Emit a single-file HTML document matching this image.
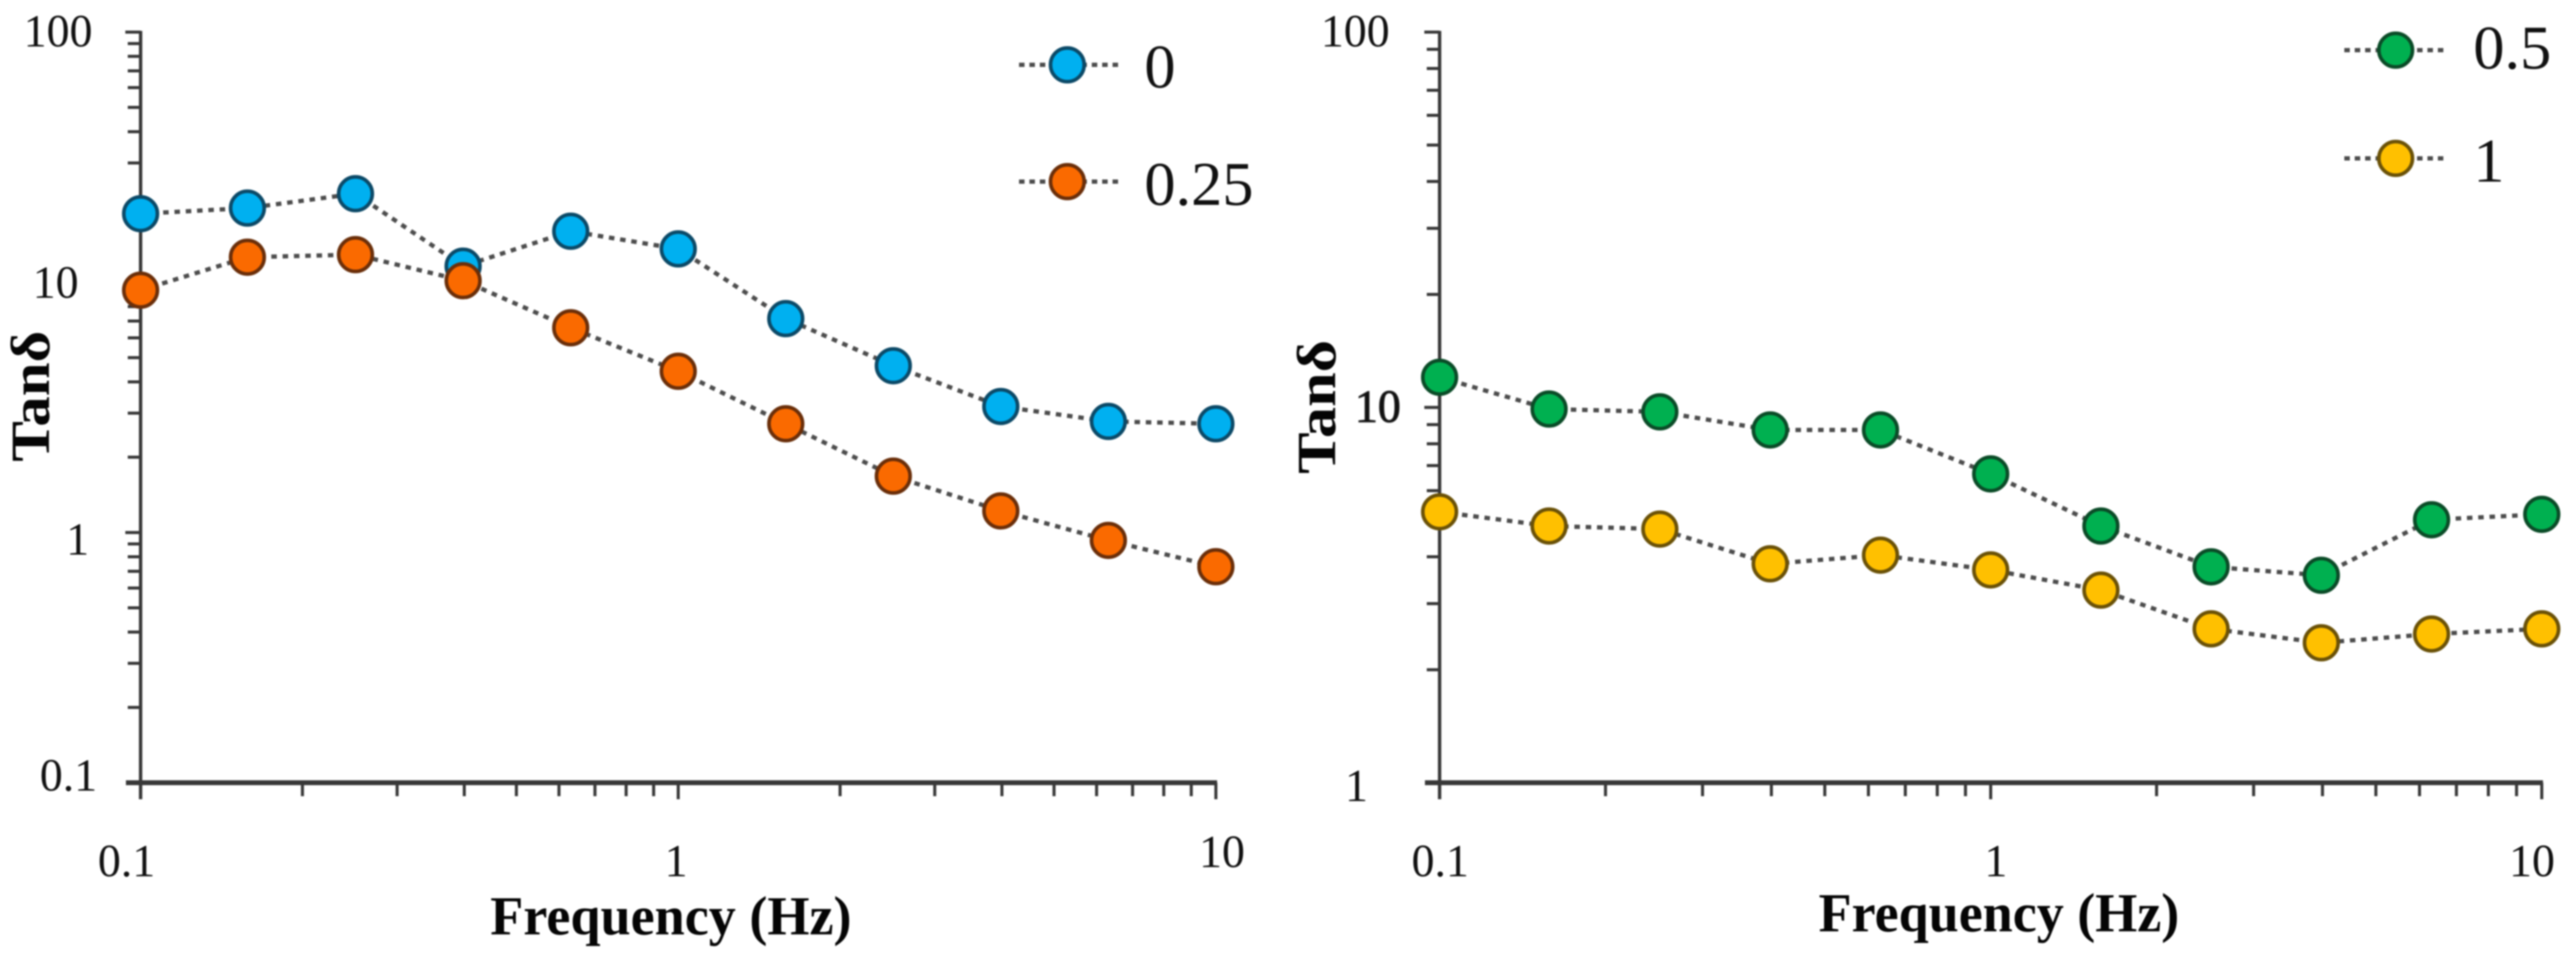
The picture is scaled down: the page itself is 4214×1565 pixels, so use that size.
<!DOCTYPE html>
<html lang="en">
<head>
<meta charset="utf-8">
<title>Tanδ versus frequency</title>
<style>
  html, body { margin: 0; padding: 0; background: #fff; }
  #figure { display: block; width: 4214px; height: 1565px; filter: blur(1.2px); }
  text { font-family: "Liberation Serif", "DejaVu Serif", serif; fill: #111; }
  .tick { font-size: 75px; text-anchor: middle; }
  .leg { font-size: 102px; }
  .title { font-size: 90px; font-weight: bold; fill: #050505; }
</style>
</head>
<body>
<svg id="figure" xmlns="http://www.w3.org/2000/svg" width="4214" height="1565" viewBox="0 0 4214 1565">
  <g id="panel-a">
    <g id="a-axes"></g>
    <g id="a-series"></g>
    <text class="tick" x="95" y="76">100</text>
    <text class="tick" x="91" y="487">10</text>
    <text class="tick" x="127" y="907">1</text>
    <text class="tick" x="112" y="1293">0.1</text>
    <text class="tick" x="207" y="1433">0.1</text>
    <text class="tick" x="1106" y="1433">1</text>
    <text class="tick" x="1999" y="1418">10</text>
    <text class="title" x="802" y="1528" textLength="591" lengthAdjust="spacingAndGlyphs">Frequency (Hz)</text>
    <text class="title" transform="translate(80 755) rotate(-90)" textLength="214" lengthAdjust="spacingAndGlyphs">Tanδ</text>
    <g>
      <line x1="1667" y1="106" x2="1830" y2="106" stroke="#4d4d4d" stroke-width="7" stroke-dasharray="9 8"/>
      <circle cx="1746" cy="106" r="27.5" fill="#00b0f0" stroke="#0c4a68" stroke-width="6"/>
      <text class="leg" x="1872" y="143">0</text>
    </g>
    <g>
      <line x1="1667" y1="297" x2="1830" y2="297" stroke="#4d4d4d" stroke-width="7" stroke-dasharray="9 8"/>
      <circle cx="1746" cy="297" r="27.5" fill="#fa6a00" stroke="#6b2f0a" stroke-width="6"/>
      <text class="leg" x="1872" y="335">0.25</text>
    </g>
  </g>
  <g id="panel-b">
    <g id="b-axes"></g>
    <g id="b-series"></g>
    <text class="tick" x="2217" y="76">100</text>
    <text class="tick" x="2254" y="690" stroke="#222" stroke-width="1.6">10</text>
    <text class="tick" x="2219" y="1310">1</text>
    <text class="tick" x="2356" y="1433">0.1</text>
    <text class="tick" x="3265" y="1433">1</text>
    <text class="tick" x="4142" y="1433">10</text>
    <text class="title" x="2975" y="1523" textLength="590" lengthAdjust="spacingAndGlyphs">Frequency (Hz)</text>
    <text class="title" transform="translate(2184 775) rotate(-90)" textLength="219" lengthAdjust="spacingAndGlyphs">Tanδ</text>
    <g>
      <line x1="3835" y1="82" x2="4002" y2="82" stroke="#4d4d4d" stroke-width="7" stroke-dasharray="9 8"/>
      <circle cx="3919" cy="82" r="27.5" fill="#00b050" stroke="#0b4c28" stroke-width="6"/>
      <text class="leg" x="4046" y="112">0.5</text>
    </g>
    <g>
      <line x1="3835" y1="259" x2="4002" y2="259" stroke="#4d4d4d" stroke-width="7" stroke-dasharray="9 8"/>
      <circle cx="3919" cy="259" r="27.5" fill="#ffc000" stroke="#6b5208" stroke-width="6"/>
      <text class="leg" x="4046" y="297">1</text>
    </g>
  </g>
</svg>
<script>
const frequencies = [0.1, 0.158, 0.251, 0.398, 0.631, 1, 1.585, 2.512, 3.981, 6.31, 10];
const series0 = [18.8, 19.8, 22.6, 11.6, 16.0, 13.6, 7.16, 4.64, 3.19, 2.78, 2.72];
const series025 = [9.3, 12.6, 12.9, 10.15, 6.58, 4.41, 2.72, 1.68, 1.22, 0.93, 0.73];
const series05 = [12.03, 9.9, 9.73, 8.71, 8.71, 6.65, 4.83, 3.76, 3.57, 5.02, 5.19];
const series1 = [5.27, 4.83, 4.74, 3.83, 4.04, 3.69, 3.26, 2.57, 2.36, 2.49, 2.57];
const minorMultipliers = [2, 3, 4, 5, 6, 7, 8, 9];

const SVGNS = 'http://www.w3.org/2000/svg';
const AXIS = '#383838';

function make(tag, attrs, parent) {
  const node = document.createElementNS(SVGNS, tag);
  Object.keys(attrs).forEach(function (k) { node.setAttribute(k, attrs[k]); });
  parent.appendChild(node);
  return node;
}

function logScale(d0, d1, r0, r1) {
  return function (v) {
    return r0 + (Math.log10(v) - Math.log10(d0)) / (Math.log10(d1) - Math.log10(d0)) * (r1 - r0);
  };
}

function drawAxes(parent, x, y, xDom, yDom) {
  const x0 = x(xDom[0]), x1 = x(xDom[1]), y0 = y(yDom[0]), y1 = y(yDom[1]);

  const yLine = make('line', { x1: x0, y1: y1 - 2, x2: x0, y2: y0 + 27, stroke: AXIS, 'stroke-width': 5.5 }, parent);
  
  

  const xLine = make('line', { x1: x0 - 24, y1: y0, x2: x1 + 2, y2: y0, stroke: AXIS, 'stroke-width': 8 }, parent);
  
  

  for (let dec = yDom[0]; dec < yDom[1] * 0.999; dec *= 10) {
    minorMultipliers.forEach(function (m) {
      const p = y(dec * m);
      const t = make('line', { x1: x0 - 21, y1: p, x2: x0, y2: p, stroke: AXIS, 'stroke-width': 5 }, parent);
      
      
    });
    const major = make('line', { x1: x0 - 25, y1: y(dec * 10), x2: x0, y2: y(dec * 10), stroke: AXIS, 'stroke-width': 5 }, parent);
    
    
  }

  for (let dec = xDom[0]; dec < xDom[1] * 0.999; dec *= 10) {
    minorMultipliers.forEach(function (m) {
      const p = x(dec * m);
      const t = make('line', { x1: p, y1: y0, x2: p, y2: y0 + 22, stroke: AXIS, 'stroke-width': 5 }, parent);
      
      
    });
    const major = make('line', { x1: x(dec * 10), y1: y0, x2: x(dec * 10), y2: y0 + 27, stroke: AXIS, 'stroke-width': 5 }, parent);
    
    
  }
}

function drawSeries(parent, x, y, values, fill, edge, label) {
  const g = make('g', {}, parent);
  
  

  const pts = values.map(function (v, i) { return x(frequencies[i]) + ',' + y(v); }).join(' ');
  const line = make('polyline', { points: pts, fill: 'none', stroke: '#4d4d4d', 'stroke-width': 7, 'stroke-dasharray': '9 9.5' }, g);
  
  

  values.forEach(function (v, i) {
    const c = make('circle', { cx: x(frequencies[i]), cy: y(v), r: 27.5, fill: fill, stroke: edge, 'stroke-width': 6 }, g);
    
    
  });
}

const axA = document.getElementById('a-axes');
const seA = document.getElementById('a-series');
const xA = logScale(0.1, 10, 230, 1989);
const yA = logScale(0.1, 100, 1280, 52.5);
drawAxes(axA, xA, yA, [0.1, 10], [0.1, 100]);
drawSeries(seA, xA, yA, series0, '#00b0f0', '#0c4a68', '0');
drawSeries(seA, xA, yA, series025, '#fa6a00', '#6b2f0a', '0-25');

const axB = document.getElementById('b-axes');
const seB = document.getElementById('b-series');
const xB = logScale(0.1, 10, 2355, 4158);
const yB = logScale(1, 100, 1280, 52.5);
drawAxes(axB, xB, yB, [0.1, 10], [1, 100]);
drawSeries(seB, xB, yB, series05, '#00b050', '#0b4c28', '0-5');
drawSeries(seB, xB, yB, series1, '#ffc000', '#6b5208', '1');
</script>
</body>
</html>
